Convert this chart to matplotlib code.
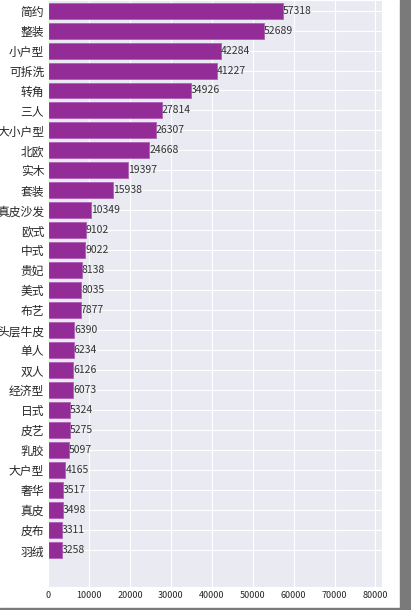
import matplotlib.pyplot as plt
from matplotlib.patches import Rectangle
import seaborn as sns

sns.set_style('darkgrid')
plt.rcParams['font.family'] = ['Noto Sans CJK SC', 'DejaVu Sans']

# 数据
categories = ['简约', '整装', '小户型', '可拆洗', '转角', '三人', '大小户型', '北欧', '实木', '套装',
              '真皮沙发', '欧式', '中式', '贵妃', '美式', '布艺', '头层牛皮', '单人', '双人', '经济型',
              '日式', '皮艺', '乳胶', '大户型', '奢华', '真皮', '皮布', '羽绒']
values = [57318, 52689, 42284, 41227, 34926, 27814, 26307, 24668, 19397, 15938,
          10349, 9102, 9022, 8138, 8035, 7877, 6390, 6234, 6126, 6073,
          5324, 5275, 5097, 4165, 3517, 3498, 3311, 3258]
xticks = [0, 10000, 20000, 30000, 40000, 50000, 60000, 70000, 80000]

fig = plt.figure(figsize=(4.11, 6.10), dpi=100)
ax = fig.add_axes([48.3 / 411, 23.3 / 610, (382 - 48.3) / 411, (610 - 23.3) / 610])

pos = list(range(len(categories)))
ax.barh(pos, values, height=0.8, color='#932C96', edgecolor='#B060B8', linewidth=0.6)

for p, v in zip(pos, values):
    ax.text(v, p, str(v), va='center', ha='left', fontsize=7.5, color='#333333')

ax.set_yticks(pos)
ax.set_yticklabels(categories, fontsize=8.5)
ax.set_xticks(xticks)
ax.set_xticklabels([str(t) for t in xticks], fontsize=6.5)
ax.set_xlim(0, 81600)
ax.set_ylim(len(categories) - 1 + 1.84, -0.53)
ax.tick_params(axis='both', length=0, pad=3)

# 截图边缘的灰色条
fig.patches.append(Rectangle((400 / 411, 0), 11 / 411, 1, transform=fig.transFigure,
                             color='#7a7a7a', zorder=10))
fig.patches.append(Rectangle((0, 0), 1, 2 / 610, transform=fig.transFigure,
                             color='#7a7a7a', zorder=10))

fig.savefig('out.png', dpi=100)
